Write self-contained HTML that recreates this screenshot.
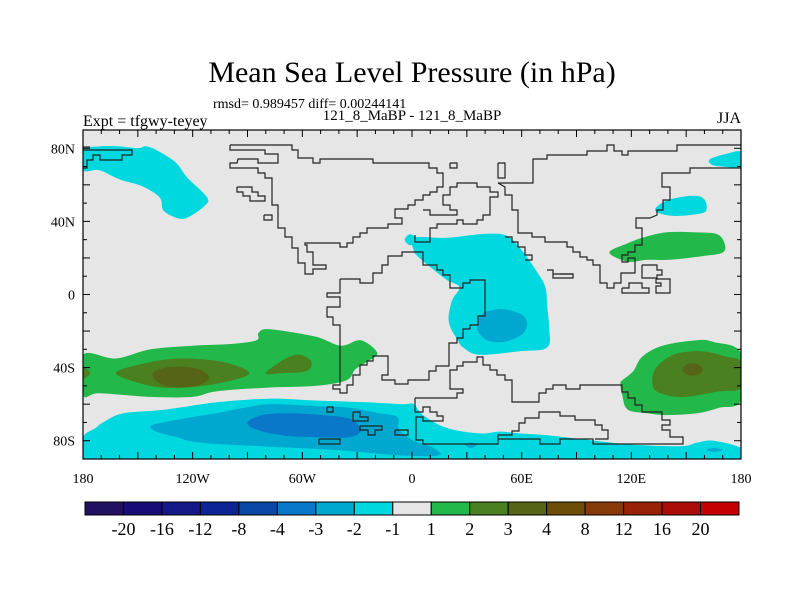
<!DOCTYPE html>
<html><head><meta charset="utf-8"><style>
html,body{margin:0;padding:0;background:#fff}
svg{display:block;font-family:"Liberation Serif",serif}
</style></head><body>
<svg id="chart" width="800" height="600" viewBox="0 0 800 600">
<defs><clipPath id="plotclip"><rect x="83" y="130" width="658" height="329"/></clipPath></defs>
<text x="412" y="82" text-anchor="middle" font-size="30">Mean Sea Level Pressure (in hPa)</text>
<text x="213" y="108" font-size="14">rmsd= 0.989457 diff= 0.00244141</text>
<text x="412" y="120" text-anchor="middle" font-size="15">121_8_MaBP - 121_8_MaBP</text>
<text x="83" y="126" font-size="16">Expt = tfgwy-teyey</text>
<text x="741" y="123" text-anchor="end" font-size="16">JJA</text>
<rect x="83" y="130" width="658" height="329" fill="#e6e6e6"/>
<g id="fills" clip-path="url(#plotclip)"></g>
<g id="coast" fill="none" stroke="#222" stroke-width="1.2" clip-path="url(#plotclip)">
<polyline points="230,145 230,150 265,150 265,154 278,154 278,163 258,163 258,159 238,159 237,163 230,163 230,168 258,168 258,173 265,173 265,178 272,178 272,205 278,205 278,228 285,228 285,237 292,237 292,248 298,248 298,263 305,263 305,274 313,274 313,269 326,269 326,265 313,265 313,252 307,252 307,245 305,245 305,243 340,243 340,247 347,247 347,243 353,243 353,237 360,237 360,233 367,233 367,228 388,228 388,224 402,224 402,218 395,218 395,209 408,209 408,205 415,205 415,200 423,200 423,195 430,195 430,192 437,192 437,187 443,187 443,173 437,173 437,168 429,168 429,163 373,163 373,159 320,159 320,163 313,163 313,158 298,158 298,150 292,150 292,145 230,145"/>
<polyline points="423,210 430,210 430,215 457,215 457,210 450,210 450,205 443,205 443,195 450,195 450,187 457,187 457,183 477,183 477,187 490,187 490,192 498,192 498,197 490,197 490,215 483,215 483,220 477,220 477,224 463,224 463,220 457,220 457,224 437,224 437,228 430,228 430,242 415,242 415,235"/>
<polyline points="340,279 360,279 360,283 373,283 373,273 382,273 382,265 388,265 388,256 402,256 402,252 423,252 423,265 437,265 437,270 443,270 443,275 450,275 450,288 463,288 463,283 470,283 470,280 485,280 485,316 478,316 478,325 470,325 470,329 463,329 463,338 457,338 457,343 449,343 449,366 436,366 436,371 429,371 429,380 408,380 408,384 395,384 395,380 382,380 382,375 388,375 388,356 373,356 373,361 367,361 367,365 360,365 360,375 353,375 353,385 347,385 347,393 340,393 340,389 333,389 333,385 340,385 340,325 333,325 333,317 327,317 327,307 340,307 340,297 327,297 327,293 340,293 340,279"/>
<polyline points="498,163 505,163 505,178 498,178 498,163"/>
<polyline points="498,183 533,183 533,159 547,159 547,155 587,155 587,151 607,151 607,145 614,145 614,151 622,151 622,155 628,155 628,151 677,151 677,145 741,145"/>
<polyline points="498,183 505,187 505,195 512,195 512,210 518,210 518,233 532,233 532,237 545,237 545,242 567,242 567,247 573,247 573,252 580,252 580,257 587,257 587,260 593,260 593,265 600,265 600,283 607,283 607,288 614,288 614,283 621,283 621,273 635,273 635,258 628,258 628,262 622,262 622,255 628,255 628,252 635,252 635,245 642,245 642,228 636,228 636,218 650,218 657,215 657,210 663,210 663,200 670,200 670,187 662,187 662,173 690,173 690,168 741,168"/>
<polyline points="505,237 512,237 512,242 518,242 518,247 525,247 525,255 532,255 532,260 525,260"/>
<polyline points="547,270 553,270 553,274 573,274 573,278 553,278 553,274"/>
<polyline points="642,265 657,265 657,270 662,270 662,275 657,275 657,278 642,278 642,265"/>
<polyline points="622,288 629,288 629,283 642,283 642,288 649,288 649,293 622,293 622,288"/>
<polyline points="656,279 670,279 670,293 656,293 656,286 661,286 661,283 656,283 656,279"/>
<polyline points="560,274 573,274"/>
<polyline points="415,398 457,398 457,393 463,393 463,389 450,389 450,370 457,370 457,366 463,366 463,362 477,362 477,357 483,357 483,365 490,365 490,370 497,370 497,375 505,375 505,380 512,380 512,402 539,402 539,393 546,393 546,389 553,389 553,385 566,385 566,389 580,389 580,385 622,385 622,392 628,392 628,398 635,398 635,405 642,405 642,412 662,412 662,420 670,420 670,425 662,425 662,430 670,430 670,437 683,437 683,444 593,444 593,439 560,439 560,444 540,444 540,439 498,439 498,444 423,444 423,440 416,440 416,417 423,417 423,421 443,421 443,416 437,416 437,412 430,412 430,407 423,407 423,412 415,412 415,398"/>
<polyline points="498,439 498,435 512,435 512,431 519,431 519,423 525,423 525,418 539,418 539,412 560,412 560,416 575,416 575,420 595,420 595,425 602,425 602,430 608,430 608,439 595,439"/>
<polyline points="83,150 132,150 132,155 122,155 122,160 100,160 100,155 93,155 93,160 87,160 87,168 83,168"/>
<polyline points="83,147 90,147"/>
<polyline points="237,187 252,187 252,192 258,192 258,196 265,196 265,201 250,201 250,196 243,196 243,192 237,192 237,187"/>
<polyline points="264,215 272,215 272,220 264,220 264,215"/>
<polyline points="450,163 457,163 457,168 450,168 450,163"/>
<polyline points="327,407 333,407 333,412 327,412 327,407"/>
<polyline points="353,412 360,412 360,417 368,417 368,421 353,421 353,412"/>
<polyline points="360,426 382,426 382,430 375,430 375,435 368,435 368,430 360,430 360,426"/>
<polyline points="395,430 408,430 408,435 395,435 395,430"/>
<polyline points="319,439 340,439 340,444 319,444 319,439"/>
</g>
<g id="axes"></g>
<g id="colorbar"></g>
</svg>
<script>
const NS='http://www.w3.org/2000/svg';
// ---- data ----
const cbLabels=['-20','-16','-12','-8','-4','-3','-2','-1','1','2','3','4','8','12','16','20'];
const cbColors=['#221060','#180c78','#141888','#0c2494','#0a48a8','#0a78c8','#00a8d0','#00d8e0','#e6e6e6','#22b84a','#4a8020','#566418','#6c4e08','#863a08','#982208','#ac0c08','#c40000'];
const lonTicks=[-180,-120,-60,0,60,120,180];
const lonTickLabels=['180','120W','60W','0','60E','120E','180'];
const latTicks=[80,40,0,-40,-80];
const latTickLabels=['80N','40N','0','40S','80S'];
// contour polygons: level index into cbColors, points [lon,lat]
const contourLevels=[7,9,10,10,10,11,7,6,5,7,7,6,9,7,7,9,10,11,6,6];
const contourShapes=[
[[-180,79],[-171,81],[-160,81],[-150,80],[-145,81],[-138,78],[-129,72],[-123,64],[-112,53],[-114,48],[-123,42],[-129,42],[-136,46],[-138,53],[-147,59],[-160,63],[-171,68],[-180,68]],
[[-180,-33],[-162,-35],[-143,-30],[-120,-28],[-98,-27],[-85,-25],[-84,-21],[-78,-19],[-53,-23],[-39,-28],[-28,-25],[-19,-32],[-25,-37],[-31,-41],[-36,-47],[-53,-50],[-80,-51],[-107,-53],[-120,-56],[-143,-56],[-171,-54],[-180,-55]],
[[-162,-43],[-143,-37],[-125,-35],[-103,-37],[-89,-43],[-103,-48],[-125,-51],[-143,-50]],
[[-80,-43],[-69,-35],[-61,-33],[-55,-37],[-58,-42],[-71,-43]],
[[-180,-40],[-176,-43],[-180,-46]],
[[-142,-44],[-135,-40],[-120,-40],[-111,-45],[-118,-50],[-135,-50]],
[[-180,-78],[-173,-73],[-169,-70],[-158,-65],[-135,-63],[-107,-59],[-78,-57],[-53,-58],[-25,-59],[-5,-60],[1,-60],[6,-66],[19,-73],[37,-76],[48,-75],[59,-76],[74,-77],[92,-79],[119,-82],[147,-83],[156,-81],[165,-80],[180,-84],[180,-90],[-180,-90]],
[[-143,-72],[-136,-70],[-120,-67],[-107,-65],[-92,-62],[-78,-60],[-53,-61],[-34,-62],[-18,-65],[-8,-67],[-7,-74],[1,-80],[10,-83],[15,-88],[-7,-88],[-43,-85],[-83,-83],[-116,-81],[-129,-78],[-140,-75]],
[[-90,-70],[-82,-66],[-67,-65],[-49,-66],[-34,-68],[-28,-74],[-34,-78],[-53,-78],[-71,-77],[-85,-74]],
[[1,31],[19,31],[37,33],[49,33],[55,30],[61,23],[68,13],[73,4],[74,-7],[75,-18],[74,-29],[59,-31],[37,-33],[28,-29],[25,-25],[21,-18],[20,-12],[22,-3],[26,4],[19,8],[10,15],[3,21],[1,24]],
[[-4,30],[-1,33],[3,30],[-1,27]],
[[38,-11],[42,-9],[50,-8],[60,-11],[63,-16],[60,-22],[50,-26],[41,-25],[36,-20],[36,-15]],
[[108,23],[118,28],[126,31],[139,34],[156,34],[167,33],[171,28],[170,23],[159,21],[141,19],[129,19],[118,18]],
[[134,48],[141,52],[154,54],[160,52],[161,46],[156,44],[143,43],[134,45]],
[[163,74],[172,77],[180,78],[180,70],[170,70],[164,71]],
[[115,-47],[121,-42],[126,-34],[137,-28],[156,-25],[165,-26],[180,-32],[180,-58],[168,-62],[156,-65],[139,-66],[129,-65],[118,-63],[115,-55],[114,-49]],
[[133,-41],[143,-33],[158,-31],[172,-34],[180,-37],[180,-51],[168,-53],[150,-56],[139,-55],[132,-51]],
[[148,-41],[151,-38],[156,-38],[159,-41],[156,-44],[151,-44]],
[[29,-82],[32,-81],[36,-82],[32,-84]],
[[161,-85],[165,-84],[170,-85],[165,-86]]
];
// ---- axis functions ----
const X0=83,X1=741,Y0=130,Y1=459;
const xs=lon=>X0+(lon+180)/360*(X1-X0);
const ys=lat=>Y1-(lat+90)/180*(Y1-Y0);
function mk(tag,attrs,parent){const e=document.createElementNS(NS,tag);for(const k in attrs)e.setAttribute(k,attrs[k]);parent.appendChild(e);return e;}
// fills (smoothed closed paths)
const fills=document.getElementById('fills');
function smoothPath(pts){
  const p=pts.map(q=>[xs(q[0]),ys(q[1])]);const n=p.length;let d='M'+p[0][0].toFixed(1)+','+p[0][1].toFixed(1);
  for(let i=0;i<n;i++){const p0=p[(i-1+n)%n],p1=p[i],p2=p[(i+1)%n],p3=p[(i+2)%n];
    const c1=[p1[0]+(p2[0]-p0[0])/6,p1[1]+(p2[1]-p0[1])/6],c2=[p2[0]-(p3[0]-p1[0])/6,p2[1]-(p3[1]-p1[1])/6];
    d+=' C'+c1[0].toFixed(1)+','+c1[1].toFixed(1)+' '+c2[0].toFixed(1)+','+c2[1].toFixed(1)+' '+p2[0].toFixed(1)+','+p2[1].toFixed(1);}
  return d+'Z';}
contourShapes.forEach((s,i)=>{
  const e=mk('path',{d:smoothPath(s),fill:cbColors[contourLevels[i]]},fills);
  
  
});
// axes
const ax=document.getElementById('axes');
const frame=mk('rect',{x:X0,y:Y0,width:X1-X0,height:Y1-Y0,fill:'none',stroke:'#000','stroke-width':1.2},ax);


for(let lon=-180;lon<=180;lon+=10){
  const x=xs(lon),L=(lon%30===0)?7:4;
  const t1=mk('line',{x1:x,y1:Y1,x2:x,y2:Y1-L,stroke:'#000'},ax);
  
  
  const t2=mk('line',{x1:x,y1:Y0,x2:x,y2:Y0+L,stroke:'#000'},ax);
  
  
}
for(let lat=-90;lat<=90;lat+=10){
  const y=ys(lat),L=(lat%20===0)?7:4;
  const t1=mk('line',{x1:X0,y1:y,x2:X0+L,y2:y,stroke:'#000'},ax);
  
  
  const t2=mk('line',{x1:X1,y1:y,x2:X1-L,y2:y,stroke:'#000'},ax);
  
  
}
lonTicks.forEach((v,i)=>{
  const t=mk('text',{x:xs(v),y:Y1+24,'text-anchor':'middle','font-size':14},ax);t.textContent=lonTickLabels[i];
  
  
});
latTicks.forEach((v,i)=>{
  const t=mk('text',{x:X0-8,y:ys(v)+5,'text-anchor':'end','font-size':14},ax);t.textContent=latTickLabels[i];
  
  
});
// colorbar
const cb=document.getElementById('colorbar');
const CX0=85,CX1=739,CY=502,CH=13,bw=(CX1-CX0)/cbColors.length;
cbColors.forEach((c,i)=>{
  const r=mk('rect',{x:CX0+i*bw,y:CY,width:bw,height:CH,fill:c,stroke:'#000','stroke-width':1},cb);
  
  
});
cbLabels.forEach((l,i)=>{
  const t=mk('text',{x:CX0+(i+1)*bw,y:CY+CH+20,'text-anchor':'middle','font-size':18},cb);t.textContent=l;
  
  
});
</script>
</body></html>
